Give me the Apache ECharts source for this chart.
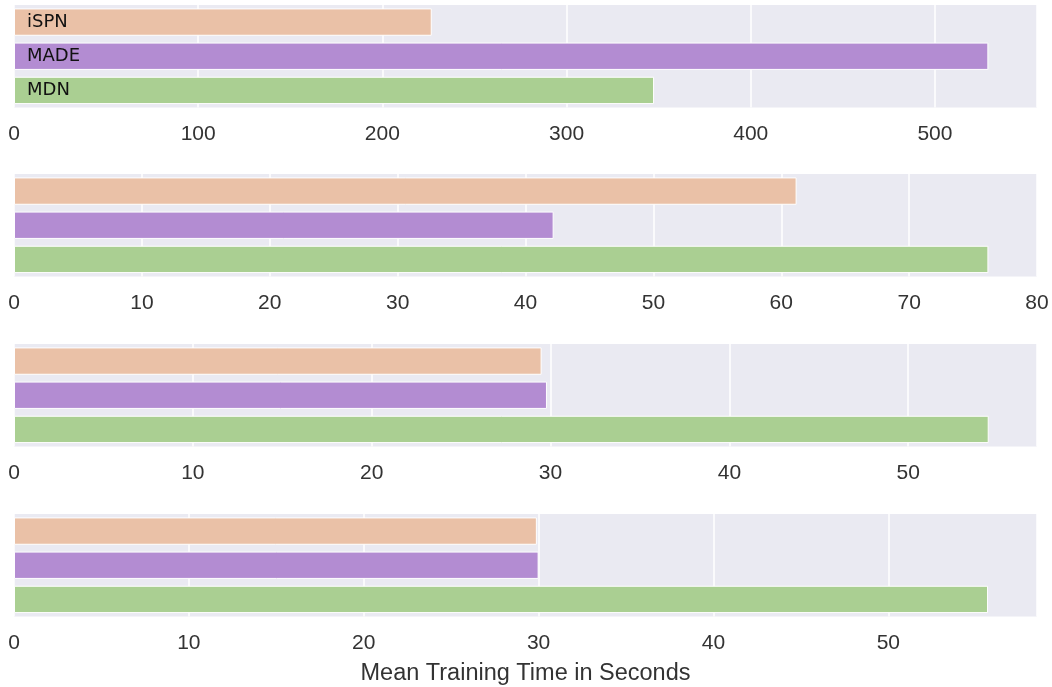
<!DOCTYPE html>
<html>
<head>
<meta charset="utf-8">
<script src="https://cdn.jsdelivr.net/npm/echarts@6/dist/echarts.min.js"></script>
<style>
html,body{margin:0;padding:0;background:#fff;}
#chart{width:1052px;height:687px;}
</style>
</head>
<body>
<div id="chart"></div>
<script>
// Data
const methods = ['iSPN', 'MADE', 'MDN'];
const panel1 = [226.8, 529.0, 347.5];
const panel2 = [61.2, 42.2, 76.2];
const panel3 = [29.5, 29.8, 54.5];
const panel4 = [29.9, 30.0, 55.7];
const panels = [panel1, panel2, panel3, panel4];
const tickIntervals = [100, 10, 10, 10];
const axisMax = [555.4, 80, 57.2, 58.5];
const showMaxTick = [false, true, false, false];
const axisTitle = 'Mean Training Time in Seconds';

// Style
const barColors = ['#EAC1A7', '#B38CD2', '#AACF92'];
const gridTops = [5, 174, 344, 514];
const gridHeight = 102.5;

const chart = echarts.init(document.getElementById('chart'));
const grids = [], xAxes = [], yAxes = [], series = [];
panels.forEach((vals, i) => {
  grids.push({
    left: 14, right: 15, top: gridTops[i], height: gridHeight,
    show: true, backgroundColor: '#EAEAF2', borderWidth: 0,
    containLabel: false, outerBoundsMode: 'none'
  });
  xAxes.push({
    type: 'value', gridIndex: i, min: 0,
    max: axisMax[i],
    interval: tickIntervals[i],
    axisLine: {show: false}, axisTick: {show: false},
    splitLine: {show: true, lineStyle: {color: '#ffffff', width: 1.5}},
    axisLabel: {
      color: '#333333', fontSize: 21, fontFamily: 'Liberation Sans, Arial, sans-serif',
      margin: 16, showMaxLabel: showMaxTick[i], showMinLabel: true
    },
    name: i === 3 ? axisTitle : '',
    nameLocation: 'middle', nameGap: 45,
    nameTextStyle: {color: '#333333', fontSize: 23.5, fontFamily: 'Liberation Sans, Arial, sans-serif'}
  });
  yAxes.push({
    type: 'category', gridIndex: i, data: methods, inverse: true,
    axisLine: {show: false}, axisTick: {show: false}, splitLine: {show: false},
    axisLabel: {
      show: i === 0, inside: true, margin: 13,
      color: '#111111', fontSize: 18, fontFamily: 'DejaVu Sans, sans-serif'
    },
    z: 10
  });
  series.push({
    type: 'bar', xAxisIndex: i, yAxisIndex: i,
    barCategoryGap: '20%',
    data: vals.map((v, k) => ({
      value: v,
      itemStyle: {color: barColors[k], borderColor: '#ffffff', borderWidth: 1}
    })),
    silent: true
  });
});

chart.setOption({
  animation: false,
  grid: grids, xAxis: xAxes, yAxis: yAxes, series: series
});
</script>
</body>
</html>
